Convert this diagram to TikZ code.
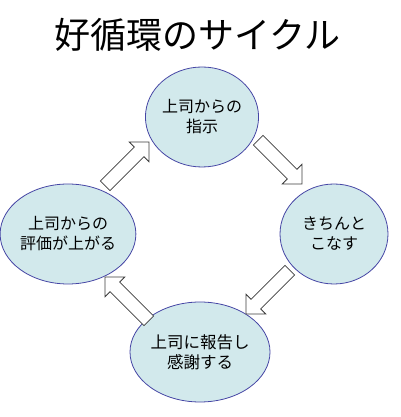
\documentclass[tikz,border=0pt]{standalone}
\usepackage{fontspec}
\newfontfamily\jp{Noto Sans CJK JP}
\usetikzlibrary{shapes.geometric}
\definecolor{cfill}{RGB}{210,233,236}
\definecolor{cline}{RGB}{70,70,165}
\definecolor{aline}{RGB}{60,60,60}
\tikzset{
  cyc/.style={ellipse, draw=cline, fill=cfill, line width=0.8pt,
    minimum width=108pt, minimum height=100pt, inner sep=0pt,
    align=center, font=\jp\fontsize{16}{20}\selectfont},
  blockarrow/.pic={
    \draw[draw=aline, fill=white, line width=0.8pt, line join=miter]
      (0,-6.8) -- (48,-6.8) -- (48,-14) -- (62,0) -- (48,14) -- (48,6.8) -- (0,6.8) -- cycle;
  }
}
\begin{document}
\begin{tikzpicture}[x=1pt,y=1pt]
\useasboundingbox (0,0) rectangle (400,417);
\node[font=\jp\fontsize{36}{40}\selectfont, inner sep=0pt] (title) at (197.5,382) {好循環のサイクル};
\node[cyc] (top) at (202,300) {上司からの\\指示};
\node[cyc] (right) at (334,183) {きちんと\\こなす};
\node[cyc, font=\jp\fontsize{16.5}{20}\selectfont] (bottom) at (200,65) {上司に報告し\\感謝する};
\node[cyc] (left) at (68,183) {上司からの\\評価が上がる};
\coordinate (a1) at (105.2,231.2);
\coordinate (a2) at (258.2,276.8);
\coordinate (a3) at (289.8,146.8);
\coordinate (a4) at (148.8,96.2);
\pic[rotate=45] at (a1) {blockarrow};
\pic[rotate=-45] at (a2) {blockarrow};
\pic[rotate=-135] at (a3) {blockarrow};
\pic[rotate=135] at (a4) {blockarrow};
\end{tikzpicture}
\end{document}
